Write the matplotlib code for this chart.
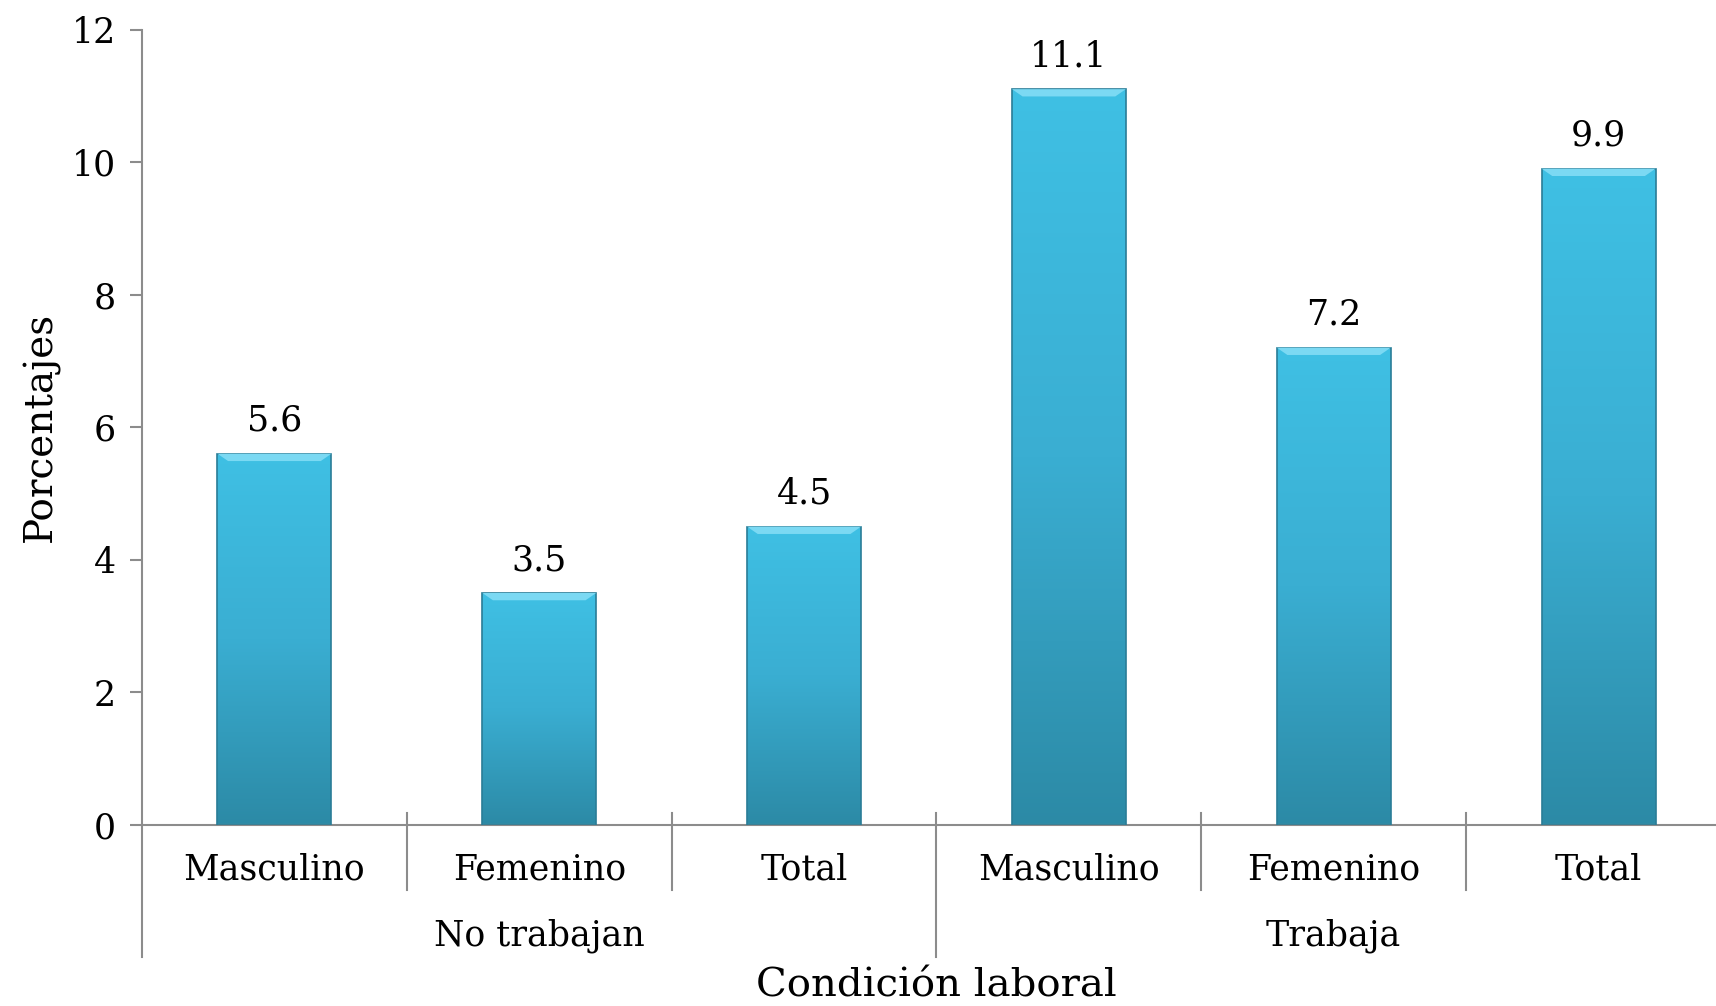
import matplotlib
matplotlib.use("Agg")
import matplotlib.pyplot as plt
import numpy as np
from matplotlib.colors import LinearSegmentedColormap
from matplotlib.patches import Polygon
import matplotlib.transforms as mtransforms

categories = ["Masculino", "Femenino", "Total", "Masculino", "Femenino", "Total"]
groups = ["No trabajan", "Trabaja"]
values = [5.6, 3.5, 4.5, 11.1, 7.2, 9.9]
yticks = [0, 2, 4, 6, 8, 10, 12]

plt.rcParams['font.family'] = ['DejaVu Serif']
W, H = 1716, 1006
fig = plt.figure(figsize=(W / 100, H / 100), dpi=100)
ax_left, ax_right = 142, 1731
ax_top, ax_bot = 29.5, 825
ax = fig.add_axes([ax_left / W, 1 - ax_bot / H, (ax_right - ax_left) / W, (ax_bot - ax_top) / H])

gray = "#8c8c8c"
x = np.arange(len(values))
bw = 0.43
ax.set_xlim(-0.5, len(values) - 0.5)
ax.set_ylim(0, 12)

cmap = LinearSegmentedColormap.from_list("g", ["#2c8aa6", "#3aaed2", "#3fc0e4"])
grad = np.linspace(0, 1, 256).reshape(-1, 1)
for xi, v in zip(x, values):
    bar = ax.bar(xi, v, width=bw, color="none", edgecolor="#2a7d97", linewidth=1.2, zorder=3)[0]
    im = ax.imshow(grad, extent=(xi - bw / 2, xi + bw / 2, 0, v), origin="lower",
                   cmap=cmap, aspect="auto", zorder=2)
    im.set_clip_path(bar)
    dy = 0.11
    dx = 0.04
    top = Polygon([[xi - bw / 2, v], [xi + bw / 2, v], [xi + bw / 2 - dx, v - dy], [xi - bw / 2 + dx, v - dy]],
                  closed=True, facecolor="#7bd9f3", edgecolor="none", zorder=4)
    ax.add_patch(top)
    ax.text(xi, v + 0.24, f"{v}", ha="center", va="bottom", fontsize=25, color="black")

ax.set_aspect("auto")
for s in ["top", "right"]:
    ax.spines[s].set_visible(False)
ax.spines["left"].set_color(gray)
ax.spines["bottom"].set_color(gray)
ax.spines["left"].set_linewidth(1.5)
ax.spines["bottom"].set_linewidth(1.5)
ax.set_yticks(yticks)
ax.set_yticklabels([str(t) for t in yticks], fontsize=25)
ax.tick_params(axis="y", length=9, width=1.5, color=gray, pad=10)
ax.set_xticks([])
ax.set_ylabel("Porcentajes", fontsize=28)
ax.yaxis.set_label_coords(-(142 - 60) / (ax_right - ax_left), 0.5)

axh = ax_bot - ax_top
trans = mtransforms.blended_transform_factory(ax.transData, ax.transAxes)
for xi, c in zip(x, categories):
    ax.text(xi, -45 / axh, c, transform=trans, ha="center", va="center", fontsize=25, clip_on=False)
# category separators
n_per = 3
for b in np.arange(-0.5, len(values), 1.0):
    is_group = (b + 0.5) % n_per == 0
    y_low = -132 / axh if is_group else -65 / axh
    if b == -0.5:
        ax.plot([b, b], [0, y_low], transform=trans, color=gray, lw=1.5, clip_on=False)
    else:
        ax.plot([b, b], [12 / axh, y_low], transform=trans, color=gray, lw=1.5, clip_on=False)
for gi, g in enumerate(groups):
    ax.text(gi * n_per + (n_per - 1) / 2, -111 / axh, g, transform=trans, ha="center", va="center",
            fontsize=25, clip_on=False)
ax.text(0.5 * (len(values) - 1), -161 / axh, "Condición laboral", transform=trans, ha="center",
        va="center", fontsize=29, clip_on=False)

fig.savefig("out.png", dpi=100)
